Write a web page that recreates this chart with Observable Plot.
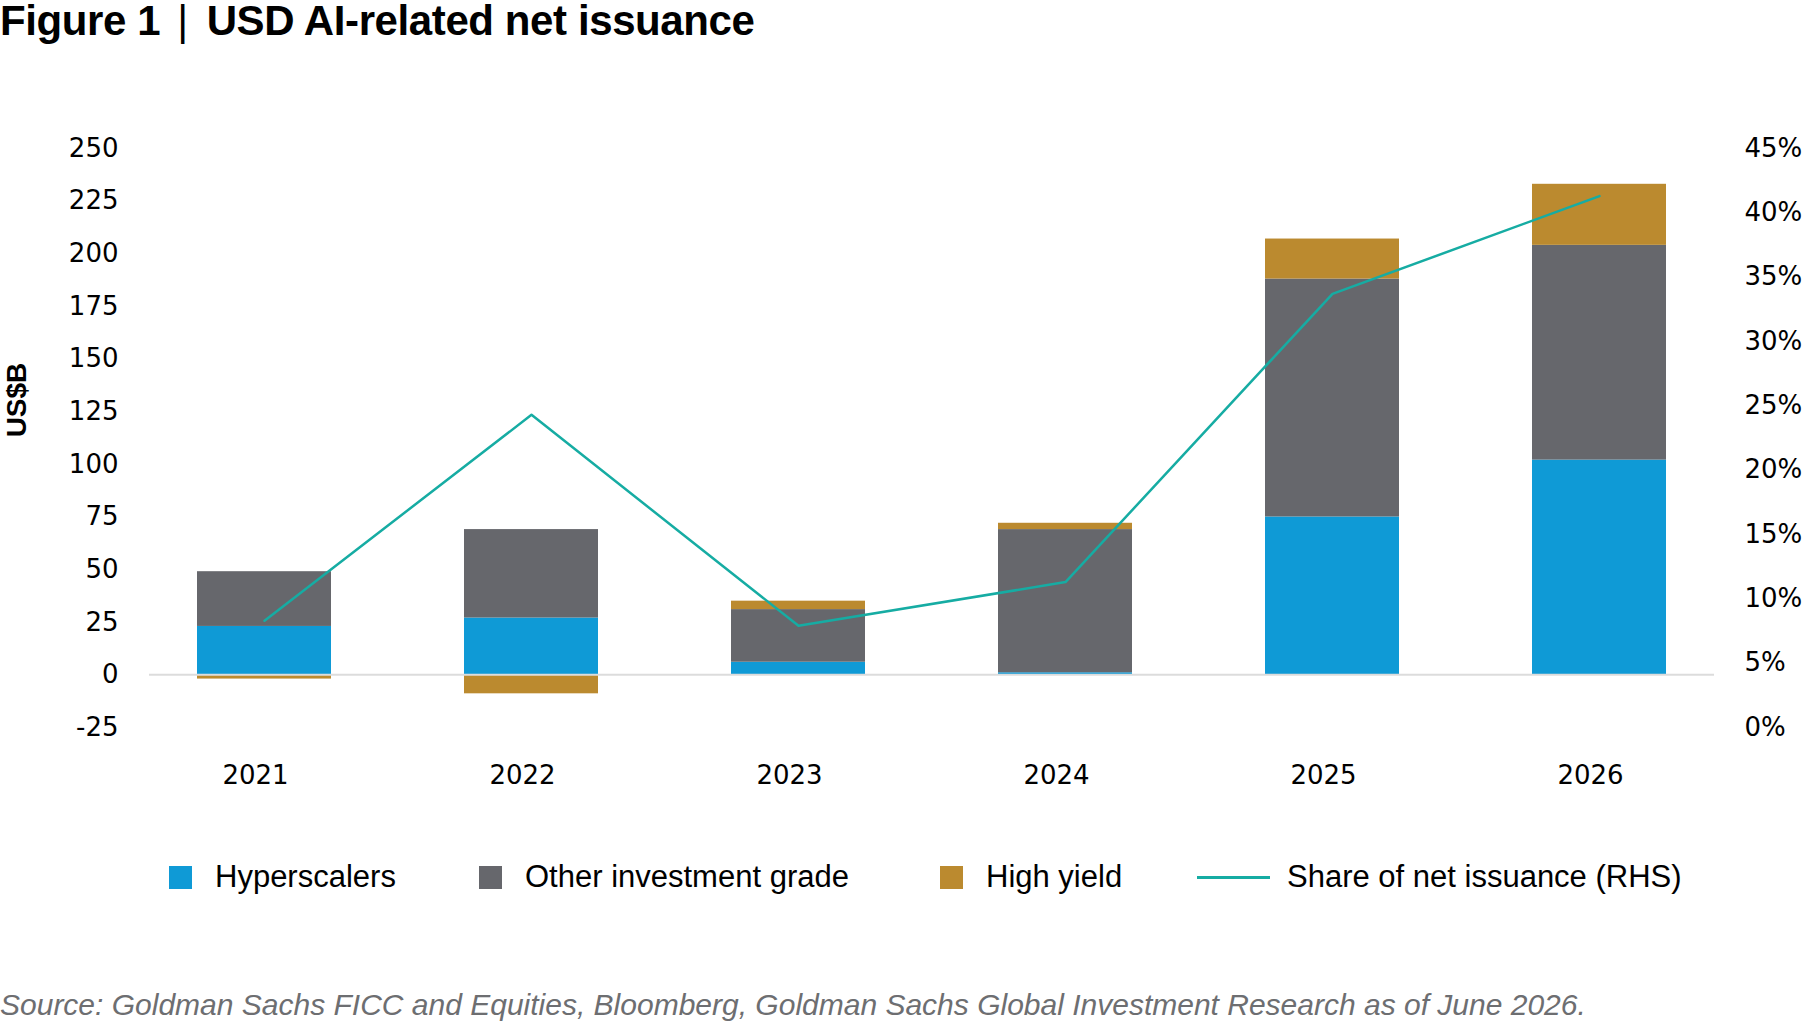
<!DOCTYPE html>
<html>
<head>
<meta charset="utf-8">
<script src="https://cdn.jsdelivr.net/npm/d3@7"></script>
<script src="https://cdn.jsdelivr.net/npm/@observablehq/plot@0.6"></script>
<style>
  body { margin: 0; background: #fff; width: 1805px; height: 1022px; position: relative; overflow: hidden;
         font-family: "Liberation Sans", Arial, sans-serif; color: #000; }
  #title { position: absolute; left: 0; top: 0; font-size: 42px; line-height: 1; font-weight: 700; white-space: nowrap; letter-spacing: -0.4px; }
  #title .sep { font-weight: 400; margin: 0 19px 0 17px; }
  #chart { position: absolute; left: 0; top: 0; }
  #ylab { position: absolute; left: 17px; top: 400px; transform: translate(-50%, -50%) rotate(-90deg);
          font-size: 28px; font-weight: 700; white-space: nowrap; }
  .litem { position: absolute; top: 877px; transform: translateY(-50%); display: flex; align-items: center;
           font-size: 31px; white-space: nowrap; }
  .litem .sw { width: 23px; height: 23px; margin-right: 23px; }
  .litem .ln { width: 73px; height: 3px; margin-right: 17px; }
  #caption { position: absolute; left: 0; top: 1005px; transform: translateY(-50%); font-size: 30px; font-style: italic;
             color: #6d6e71; white-space: nowrap; }
</style>
</head>
<body>
<div id="title">Figure 1<span class="sep">|</span>USD AI-related net issuance</div>
<div id="chart"></div>
<div id="ylab">US$B</div>
<div id="legend"></div>
<div id="caption">Source: Goldman Sachs FICC and Equities, Bloomberg, Goldman Sachs Global Investment Research as of June 2026.</div>
<script>
// ---- data ----
const years = ["2021", "2022", "2023", "2024", "2025", "2026"];
const seriesNames = ["Hyperscalers", "Other investment grade", "High yield"];
const hyperscalers = [23, 27, 6, 1, 75, 102];
const otherIG = [26, 42, 25, 68, 113, 102];
const highYield = [-2, -9, 4, 3, 19, 29];
const share = [0.083, 0.243, 0.079, 0.113, 0.337, 0.413];
const leftTicks = [-25, 0, 25, 50, 75, 100, 125, 150, 175, 200, 225, 250];
const rightTicks = [0, 0.05, 0.10, 0.15, 0.20, 0.25, 0.30, 0.35, 0.40, 0.45];
const lineName = "Share of net issuance (RHS)";

const colors = { "Hyperscalers": "#0f9ad6", "Other investment grade": "#66676c", "High yield": "#bb8a2f" };
const lineColor = "#16aca3";

// build table
const seriesValues = [hyperscalers, otherIG, highYield];
const bars = [];
years.forEach((yr, i) => {
  seriesNames.forEach((s, j) => bars.push({ year: yr, series: s, value: seriesValues[j][i] }));
});
const lineData = years.map((yr, i) => ({ year: yr, share: share[i] }));

// right axis mapping onto left scale
const share2y = d3.scaleLinear().domain([0, 0.45]).range([-25, 250]);

const tickFont = "'DejaVu Sans', 'Liberation Sans', sans-serif";
const W = 1805, H = 820;
const plot = Plot.plot({
  width: W,
  height: H,
  marginLeft: 149,
  marginRight: 91,
  marginTop: 148,
  marginBottom: 93,
  style: { fontFamily: tickFont, fontSize: "26px", color: "#000", background: "transparent" },
  x: { type: "band", domain: years, paddingInner: 0.5, paddingOuter: 0.176, label: null },
  y: { domain: [-25, 250], label: null },
  color: { domain: seriesNames, range: seriesNames.map(s => colors[s]) },
  marks: [
    Plot.axisY(leftTicks, { anchor: "left", tickSize: 0, tickPadding: 31, label: null, fontSize: 26,
      tickFormat: d => String(d) }),
    Plot.axisY(rightTicks.map(t => share2y(t)), {
      anchor: "right", tickSize: 0, tickPadding: 30, label: null, fontSize: 26,
      tickFormat: v => Math.round(share2y.invert(v) * 100) + "%"
    }),
    Plot.axisX({ anchor: "bottom", tickSize: 0, tickPadding: 38, label: null, fontSize: 26, dx: -9 }),
    Plot.barY(bars, Plot.stackY({
      x: "year", y: "value", fill: "series", z: "series",
      order: seriesNames
    })),
    Plot.ruleY([0], { stroke: "#dcdcdc", strokeWidth: 2 }),
    Plot.line(lineData, { x: "year", y: d => share2y(d.share), stroke: lineColor, strokeWidth: 2.5 })
  ]
});
document.getElementById("chart").appendChild(plot);

// legend
const legendLeft = [169, 479, 940, 1197];
const legend = document.getElementById("legend");
seriesNames.forEach((s, i) => {
  const it = document.createElement("div");
  it.className = "litem";
  it.style.left = legendLeft[i] + "px";
  it.innerHTML = `<span class="sw" style="background:${colors[s]}"></span><span>${s}</span>`;
  legend.appendChild(it);
});
const li = document.createElement("div");
li.className = "litem";
li.style.left = legendLeft[3] + "px";
li.innerHTML = `<span class="ln" style="background:${lineColor}"></span><span>${lineName}</span>`;
legend.appendChild(li);
</script>
</body>
</html>
